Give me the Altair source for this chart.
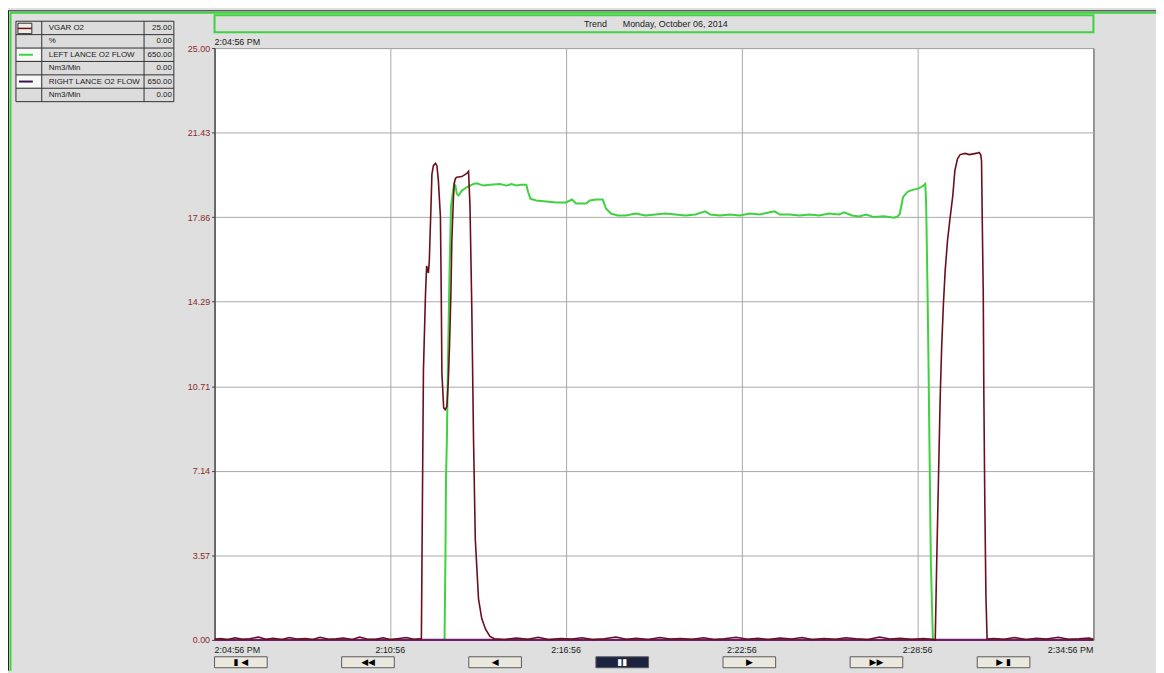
import altair as alt
import pandas as pd

# ---------------- data (time in minutes after 2:04:56 PM) ----------------
# VGAR O2 (%) – dark red trace
vgar_base_a = [(0.0, 0.03), (0.2, 0.06), (0.45, 0.02), (0.7, 0.09), (0.95, 0.03), (1.2, 0.05),
               (1.5, 0.12), (1.75, 0.03), (2.0, 0.07), (2.3, 0.02), (2.55, 0.10), (2.8, 0.04),
               (3.1, 0.06), (3.35, 0.02), (3.6, 0.11), (3.9, 0.03), (4.15, 0.05), (4.4, 0.08),
               (4.7, 0.02), (4.95, 0.12), (5.2, 0.04), (5.5, 0.03), (5.75, 0.09), (6.0, 0.02),
               (6.3, 0.06), (6.55, 0.10), (6.8, 0.03), (7.0, 0.05)]
vgar_pulse_a = [(7.06, 0.05), (7.09, 5.0), (7.13, 11.4), (7.20, 14.6), (7.24, 15.8), (7.30, 15.5),
                (7.33, 16.0), (7.38, 18.0), (7.42, 19.68), (7.47, 20.03), (7.54, 20.13), (7.59, 20.03),
                (7.64, 19.40), (7.71, 17.86), (7.74, 14.35), (7.76, 11.28), (7.82, 9.81), (7.87, 9.72),
                (7.93, 9.86), (7.98, 10.98), (8.02, 12.39), (8.07, 14.77), (8.10, 16.88), (8.15, 18.56),
                (8.18, 19.26), (8.22, 19.49), (8.27, 19.54), (8.44, 19.57), (8.61, 19.70), (8.67, 19.79),
                (8.72, 18.28), (8.78, 14.07), (8.84, 8.46), (8.90, 4.25), (9.01, 1.73), (9.12, 0.90),
                (9.25, 0.45), (9.40, 0.15), (9.55, 0.05)]
vgar_base_b = [(9.9, 0.02), (10.3, 0.08), (10.7, 0.03), (11.05, 0.11), (11.4, 0.02),
               (11.8, 0.06), (12.2, 0.04), (12.55, 0.09), (12.9, 0.02), (13.3, 0.05), (13.7, 0.12),
               (14.05, 0.03), (14.4, 0.07), (14.8, 0.02), (15.2, 0.10), (15.55, 0.04), (15.9, 0.06),
               (16.3, 0.03), (16.7, 0.09), (17.05, 0.02), (17.4, 0.05), (17.8, 0.11), (18.2, 0.03),
               (18.55, 0.07), (18.9, 0.02), (19.3, 0.08), (19.7, 0.04), (20.05, 0.10), (20.4, 0.02),
               (20.8, 0.06), (21.2, 0.03), (21.55, 0.09), (21.9, 0.05), (22.3, 0.02), (22.7, 0.12),
               (23.05, 0.04), (23.4, 0.07), (23.8, 0.03), (24.2, 0.06), (24.55, 0.02)]
vgar_pulse_b = [(24.60, 0.0), (24.65, 3.28), (24.71, 6.78), (24.77, 10.28), (24.82, 12.39),
                (24.88, 14.21), (24.94, 15.61), (25.02, 16.88), (25.11, 17.86), (25.20, 18.77),
                (25.27, 19.82), (25.36, 20.32), (25.45, 20.50), (25.62, 20.55), (25.76, 20.50),
                (25.90, 20.53), (26.03, 20.56), (26.10, 20.59), (26.15, 20.50), (26.18, 20.24),
                (26.21, 17.30), (26.24, 14.49), (26.26, 10.28), (26.29, 6.07), (26.33, 1.86), (26.37, 0.04)]
vgar_base_c = [(26.6, 0.06), (26.95, 0.03), (27.3, 0.10), (27.7, 0.02), (28.05, 0.07), (28.4, 0.04),
               (28.8, 0.11), (29.15, 0.03), (29.5, 0.05), (29.85, 0.08), (30.0, 0.03)]

# LEFT LANCE O2 FLOW (in chart units, 0-25 = 0-650 Nm3/min) – green trace
left_lance = [(0.0, 0.0), (7.85, 0.0), (7.88, 3.41), (7.90, 6.78), (7.93, 8.46), (7.97, 11.97),
              (8.02, 15.49), (8.07, 18.28), (8.14, 18.98), (8.18, 19.26), (8.22, 19.19), (8.27, 18.84),
              (8.33, 18.77), (8.44, 18.98), (8.61, 19.12), (8.84, 19.26), (8.95, 19.29), (9.18, 19.19),
              (9.40, 19.23), (9.74, 19.26), (9.97, 19.19), (10.14, 19.26), (10.31, 19.19), (10.47, 19.23),
              (10.64, 19.23), (10.71, 18.90), (10.78, 18.64), (10.98, 18.56), (11.32, 18.52), (11.66, 18.48),
              (12.00, 18.48), (12.20, 18.60), (12.34, 18.43), (12.68, 18.43), (12.81, 18.56), (13.02, 18.60),
              (13.25, 18.60), (13.36, 18.22), (13.53, 18.01), (13.76, 17.93), (14.03, 17.93), (14.37, 18.01),
              (14.71, 17.93), (15.05, 17.97), (15.39, 18.01), (15.73, 17.97), (16.07, 17.93), (16.41, 17.97),
              (16.75, 18.10), (16.92, 17.97), (17.25, 17.93), (17.59, 17.97), (17.93, 17.93), (18.27, 18.01),
              (18.61, 17.97), (18.95, 18.06), (19.12, 18.10), (19.29, 17.97), (19.63, 17.97), (19.97, 17.93),
              (20.31, 17.97), (20.64, 17.93), (20.98, 18.01), (21.32, 17.97), (21.49, 18.06), (21.76, 17.93),
              (22.00, 17.89), (22.24, 17.97), (22.51, 17.86), (22.85, 17.89), (23.19, 17.83), (23.32, 17.89),
              (23.39, 18.00), (23.50, 18.70), (23.64, 18.91), (23.75, 18.98), (23.86, 19.02), (23.98, 19.05),
              (24.10, 19.11), (24.20, 19.19), (24.26, 19.26), (24.29, 18.43), (24.34, 14.49), (24.37, 11.70),
              (24.41, 7.49), (24.45, 3.28), (24.52, 0.04), (24.56, 0.0), (30.0, 0.0)]

# RIGHT LANCE O2 FLOW – purple trace (flat at zero)
right_lance = [(0.0, 0.0), (30.0, 0.0)]

y_ticks = [0.0, 3.5714, 7.1429, 10.7143, 14.2857, 17.8571, 21.4286, 25.0]
x_grid = [6, 12, 18, 24]
x_tick_t = [0, 6, 12, 18, 24, 30]
x_tick_labels = ["2:04:56 PM", "2:10:56", "2:16:56", "2:22:56", "2:28:56", "2:34:56 PM"]

legend_names = ["VGAR O2", "%", "LEFT LANCE O2 FLOW", "Nm3/Min", "RIGHT LANCE O2 FLOW", "Nm3/Min"]
legend_values = ["25.00", "0.00", "650.00", "0.00", "650.00", "0.00"]
trend_word = "Trend"
trend_date = "Monday, October 06, 2014"
start_label = "2:04:56 PM"
button_glyphs = ["▮ ◀", "◀◀", "◀", "▮▮", "▶", "▶▶", "▶ ▮"]

# ---------------- styling ----------------
W, H = 885, 596
PAD = {"left": 208, "top": 38, "right": 63, "bottom": 31}
BG = "#dfdfdf"
GREEN = "#3ed23e"
DARKRED = "#6a0f1c"
PURPLE = "#6e1c6e"
SANS = "'Liberation Sans', Arial, sans-serif"
SYMF = "'DejaVu Sans', sans-serif"


def to_df(points):
    return pd.DataFrame({"t": [p[0] for p in points], "v": [p[1] for p in points]})


vgar_df = to_df(vgar_base_a + vgar_pulse_a + vgar_base_b + vgar_pulse_b + vgar_base_c)
left_df = to_df(left_lance)
right_df = to_df(right_lance)

X = alt.X("t:Q", scale=alt.Scale(domain=[0, 30], nice=False, zero=False),
          axis=alt.Axis(values=x_grid, labels=False, ticks=False, domain=False, grid=True,
                        gridColor="#a8a8a8", gridWidth=1, title=None))
Y = alt.Y("v:Q", scale=alt.Scale(domain=[0, 25], nice=False),
          axis=alt.Axis(values=y_ticks, format=".2f", labelColor="#8b2a2a", labelFont=SANS,
                        labelFontSize=9, tickSize=3, tickColor="#404040", domainColor="#404040",
                        gridColor="#a8a8a8", gridWidth=1, title=None, labelPadding=2))

line_left = alt.Chart(left_df).mark_line(color=GREEN, strokeWidth=2).encode(x=X, y=Y, order="t:Q")
line_right = alt.Chart(right_df).mark_line(color=PURPLE, strokeWidth=2.2).encode(x=X, y=Y, order="t:Q")
line_vgar = alt.Chart(vgar_df).mark_line(color=DARKRED, strokeWidth=1.6).encode(x=X, y=Y, order="t:Q")

# x tick labels through the x scale
xl = pd.DataFrame({"t": x_tick_t, "label": x_tick_labels})
xt_kw = dict(font=SANS, fontSize=9, color="#202020", baseline="middle")
xlab_left = alt.Chart(xl.iloc[[0]]).mark_text(align="left", **xt_kw).encode(
    x=alt.X("t:Q"), y=alt.value(H + 10), text="label:N")
xlab_mid = alt.Chart(xl.iloc[1:5]).mark_text(align="center", **xt_kw).encode(
    x=alt.X("t:Q"), y=alt.value(H + 10), text="label:N")
xlab_right = alt.Chart(xl.iloc[[5]]).mark_text(align="right", **xt_kw).encode(
    x=alt.X("t:Q"), y=alt.value(H + 10), text="label:N")

# ---------------- decorations (pixel positions relative to plot area) ----------------
L0, L1, L2, L3 = -200, -174, -71, -41      # legend column edges
T0, RH = -27, 13.5                          # legend top and row height
rects = [
    dict(x=0, x2=W, y=-33, y2=-16, fill=BG, stroke=GREEN, sw=2),
    dict(x=L0, x2=L3, y=T0, y2=T0 + 6 * RH, fill="#dcdcdc", stroke="#303030", sw=1),
    dict(x=L0 + 1, x2=L1 - 1, y=T0 + 2 * RH + 1, y2=T0 + 3 * RH - 1, fill="#f8f8f8", stroke="#f8f8f8", sw=0),
    dict(x=L0 + 1, x2=L1 - 1, y=T0 + 4 * RH + 1, y2=T0 + 5 * RH - 1, fill="#f8f8f8", stroke="#f8f8f8", sw=0),
    dict(x=L0 + 2, x2=L0 + 16, y=T0 + 2, y2=T0 + RH - 1, fill="#f0ece4", stroke="#303030", sw=1),
]
for i in range(len(button_glyphs)):
    dark = i == 3
    rects.append(dict(x=128 * i, x2=128 * i + 53, y=H + 17, y2=H + 28,
                      fill="#1c2340" if dark else "#ebe8e0", stroke="#5a5a5a", sw=1))
rect_df = pd.DataFrame(rects)

rules = [
    dict(x=-208, x2=W + 63, y=-37.5, y2=-37.5, stroke="#202020", sw=1),
    dict(x=-206, x2=W + 63, y=-35.5, y2=-35.5, stroke=GREEN, sw=2),
    dict(x=-207.5, x2=-207.5, y=-37.5, y2=H + 31, stroke="#202020", sw=1),
    dict(x=-205.5, x2=-205.5, y=-35.5, y2=H + 31, stroke=GREEN, sw=2),
    dict(x=L1, x2=L1, y=T0, y2=T0 + 6 * RH, stroke="#303030", sw=1),
    dict(x=L2, x2=L2, y=T0, y2=T0 + 6 * RH, stroke="#303030", sw=1),
    dict(x=L0 + 2, x2=L0 + 16, y=T0 + 0.5 * RH + 0.5, y2=T0 + 0.5 * RH + 0.5, stroke=DARKRED, sw=1.5),
    dict(x=L0 + 3, x2=L0 + 17, y=T0 + 2.5 * RH, y2=T0 + 2.5 * RH, stroke=GREEN, sw=2),
    dict(x=L0 + 3, x2=L0 + 17, y=T0 + 4.5 * RH, y2=T0 + 4.5 * RH, stroke="#3a1450", sw=2),
]
for r in range(1, 6):
    rules.append(dict(x=L0, x2=L3, y=T0 + r * RH, y2=T0 + r * RH, stroke="#303030", sw=1))
rule_df = pd.DataFrame(rules)

PX = lambda f: alt.X(f + ":Q", scale=None, axis=None)
PY = lambda f: alt.Y(f + ":Q", scale=None, axis=None)

rect_layer = alt.Chart(rect_df).mark_rect().encode(
    x=PX("x"), x2="x2:Q", y=PY("y"), y2="y2:Q",
    fill=alt.Fill("fill:N", scale=None), stroke=alt.Stroke("stroke:N", scale=None),
    strokeWidth=alt.StrokeWidth("sw:Q", scale=None))
rule_layer = alt.Chart(rule_df).mark_rule().encode(
    x=PX("x"), x2="x2:Q", y=PY("y"), y2="y2:Q",
    stroke=alt.Stroke("stroke:N", scale=None), strokeWidth=alt.StrokeWidth("sw:Q", scale=None))

legend_left = [dict(x=L1 + 7, y=T0 + (i + 0.5) * RH, text=n) for i, n in enumerate(legend_names)]
legend_right = [dict(x=L3 - 2, y=T0 + (i + 0.5) * RH, text=v) for i, v in enumerate(legend_values)]
title_texts = [dict(x=372, y=-24.5, text=trend_word), dict(x=411, y=-24.5, text=trend_date),
               dict(x=0, y=-6, text=start_label)]
btn_texts = [dict(x=128 * i + 26.5, y=H + 22.5, text=g, color="#ffffff" if i == 3 else "#000000")
             for i, g in enumerate(button_glyphs)]

txt_legend_l = alt.Chart(pd.DataFrame(legend_left)).mark_text(
    align="left", baseline="middle", font=SANS, fontSize=8, color="#202020").encode(
    x=PX("x"), y=PY("y"), text="text:N")
txt_legend_r = alt.Chart(pd.DataFrame(legend_right)).mark_text(
    align="right", baseline="middle", font=SANS, fontSize=8, color="#202020").encode(
    x=PX("x"), y=PY("y"), text="text:N")
txt_title = alt.Chart(pd.DataFrame(title_texts)).mark_text(
    align="left", baseline="middle", font=SANS, fontSize=9, color="#202020").encode(
    x=PX("x"), y=PY("y"), text="text:N")
txt_btn = alt.Chart(pd.DataFrame(btn_texts)).mark_text(
    align="center", baseline="middle", font=SYMF, fontSize=9).encode(
    x=PX("x"), y=PY("y"), text="text:N", color=alt.Color("color:N", scale=None))

chart = alt.layer(
    line_left, line_right, line_vgar,
    xlab_left, xlab_mid, xlab_right,
    rect_layer, rule_layer, txt_legend_l, txt_legend_r, txt_title, txt_btn,
).properties(
    width=W, height=H, padding=PAD, background=BG,
    autosize=alt.AutoSizeParams(type="none"),
).configure_view(stroke="#404040", strokeWidth=1, fill="white")

chart.save("out.html", embed_options={"renderer": "svg", "actions": False})
